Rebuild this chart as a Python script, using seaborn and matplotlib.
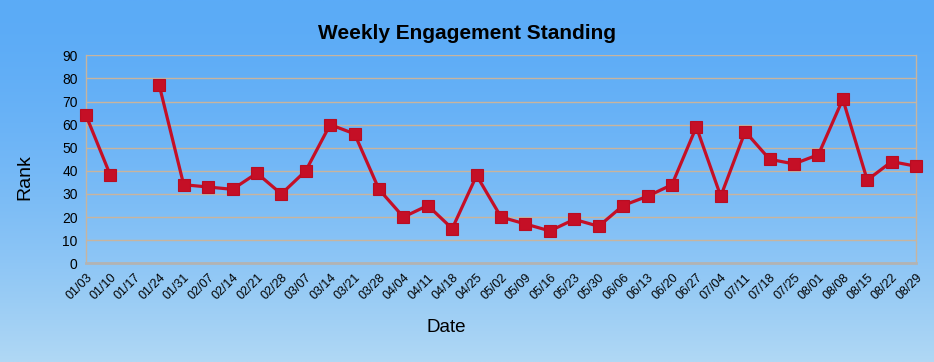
import numpy as np
import pandas as pd
import seaborn as sns
import matplotlib.pyplot as plt

# Weekly rank values (01/17 missing)
dates = ['01/03', '01/10', '01/17', '01/24', '01/31', '02/07', '02/14', '02/21', '02/28',
         '03/07', '03/14', '03/21', '03/28', '04/04', '04/11', '04/18', '04/25', '05/02',
         '05/09', '05/16', '05/23', '05/30', '06/06', '06/13', '06/20', '06/27', '07/04',
         '07/11', '07/18', '07/25', '08/01', '08/08', '08/15', '08/22', '08/29']
ranks = [64, 38, np.nan, 77, 34, 33, 32, 39, 30,
         40, 60, 56, 32, 20, 25, 15, 38, 20,
         17, 14, 19, 16, 25, 29, 34, 59, 29,
         57, 45, 43, 47, 71, 36, 44, 42]
y_ticks = [0, 10, 20, 30, 40, 50, 60, 70, 80, 90]

df = pd.DataFrame({'Date': dates, 'Rank': ranks})
df['pos'] = np.arange(len(df))
# break the line where a week is missing
df['segment'] = df['Rank'].isna().cumsum()
df = df.dropna()

sns.set_style('white')
plt.rcParams['font.family'] = ['Liberation Sans', 'DejaVu Sans']
plt.rcParams['text.color'] = 'black'
plt.rcParams['xtick.color'] = 'black'
plt.rcParams['ytick.color'] = 'black'

fig = plt.figure(figsize=(9.34, 3.62), dpi=100)

# sky-like gradient background
bg = fig.add_axes([0, 0, 1, 1], zorder=-10)
grad = np.linspace(0, 1, 256)[:, None]
top = np.array([0x5b, 0xab, 0xf7]) / 255
bottom = np.array([0xb0, 0xd8, 0xf4]) / 255
t = grad ** 1.6
img = top[None, None, :] * (1 - t[..., None]) + bottom[None, None, :] * t[..., None]
img = np.repeat(img, 4, axis=1)
bg.imshow(img, aspect='auto', extent=[0, 1, 0, 1])
bg.axis('off')

ax = fig.add_axes([0.0921, 0.2727, 0.8887, 0.5746])
ax.set_facecolor('none')

sns.lineplot(data=df, x='pos', y='Rank', units='segment', estimator=None,
             color='#c50f26', linewidth=2.3, marker='s', markersize=8.5,
             markeredgecolor='#b80d22', markeredgewidth=0.8, ax=ax, zorder=5,
             clip_on=False)

ax.set_xlim(0, len(dates) - 1)
ax.set_ylim(0, 90)
ax.set_yticks(y_ticks)
ax.set_xticks(np.arange(len(dates)))
ax.set_xticklabels(dates, rotation=45, ha='right', rotation_mode='anchor', fontsize=9)
ax.tick_params(axis='y', labelsize=10, length=4, color='#c8b49e', pad=2, direction='out')
ax.tick_params(axis='x', length=4, color='#c8b49e', pad=2, direction='out')
ax.grid(axis='y', color='#c8b49e', linewidth=1)
ax.set_axisbelow(True)
for side in ['left', 'right']:
    ax.spines[side].set_visible(True)
    ax.spines[side].set_color('#c8b49e')
    ax.spines[side].set_linewidth(1)
ax.spines['top'].set_visible(False)
ax.spines['bottom'].set_color('#b3b3b3')
ax.spines['bottom'].set_linewidth(2)

ax.set_xlabel('')
ax.set_ylabel('')
fig.text(0.0268, 0.51, 'Rank', rotation=90, ha='center', va='center', fontsize=14)
fig.text(0.4775, 0.094, 'Date', ha='center', va='center', fontsize=13.5)
fig.text(0.5, 0.907, 'Weekly Engagement Standing', ha='center', va='center',
         fontsize=15, fontweight='bold')

fig.savefig('out.png', dpi=100)
